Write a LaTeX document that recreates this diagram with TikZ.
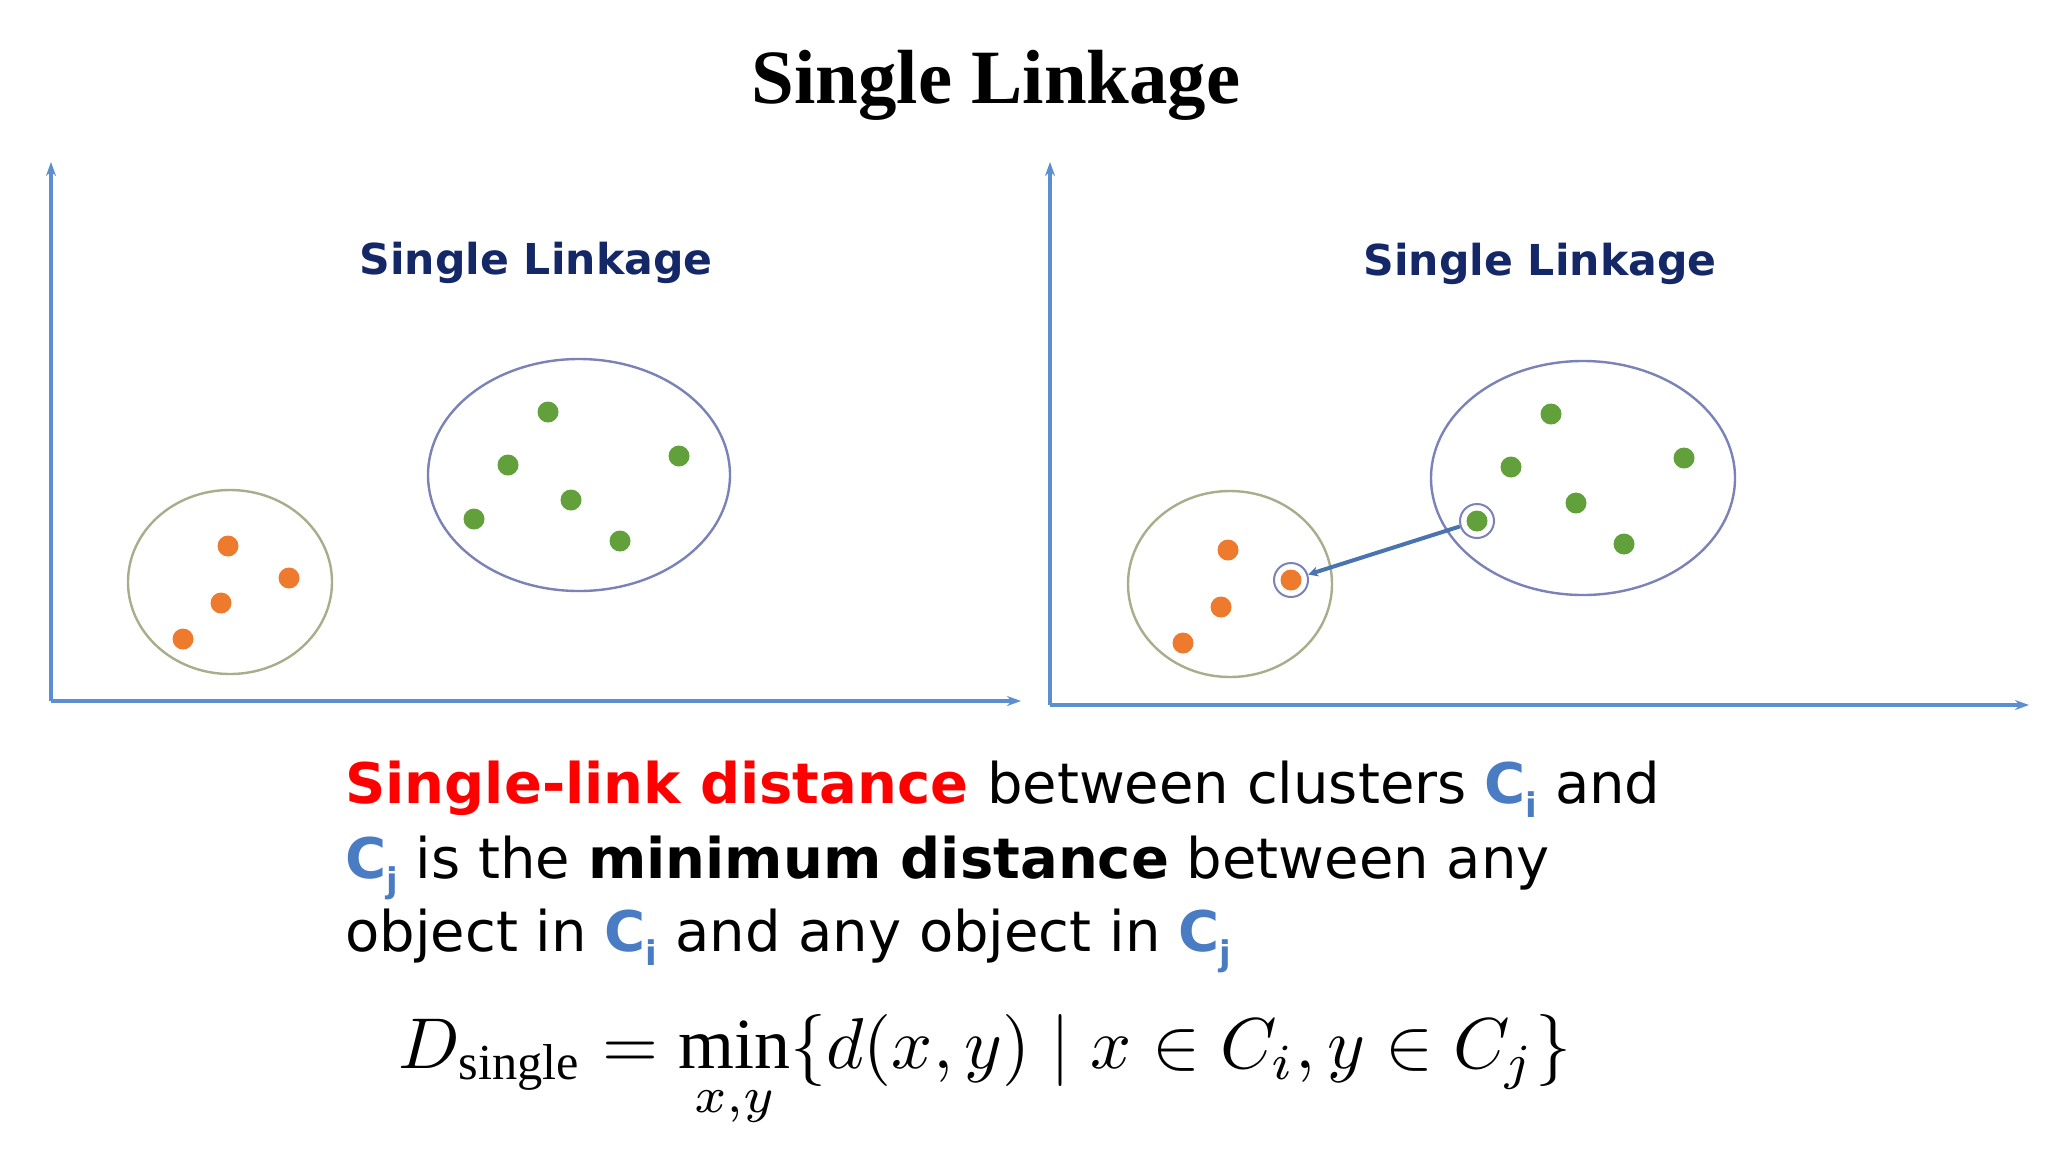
\documentclass[tikz,border=0pt]{standalone}
\usepackage{fontspec}
\usepackage{amsmath}
\setmainfont{Liberation Serif}
\newfontfamily\dv{DejaVu Sans}
\usetikzlibrary{arrows.meta}
\definecolor{axisc}{HTML}{5B8FD0}
\definecolor{navy}{HTML}{142766}
\definecolor{orng}{HTML}{EE7A2E}
\definecolor{grn}{HTML}{62A03C}
\definecolor{cblue}{HTML}{4A7CC4}
\definecolor{ellg}{HTML}{A8AE8C}
\definecolor{ellb}{HTML}{7A82B8}
\definecolor{linkc}{HTML}{4A74B0}
\tikzset{
 axis/.style={draw=axisc,line width=2pt,-{Stealth[length=7pt,width=5pt]}},
 od/.style={circle,fill=orng,minimum size=10.5pt,inner sep=0},
 gd/.style={circle,fill=grn,minimum size=10.5pt,inner sep=0},
 ptitle/.style={font=\dv\bfseries\fontsize{21.3}{25}\selectfont,text=navy},
 hl/.style={circle,draw=ellb,line width=1pt,minimum size=17pt,inner sep=0},
 body/.style={font=\dv\fontsize{28}{37}\selectfont,anchor=base west,inner sep=0}
}
\begin{document}
\begin{tikzpicture}[x=0.5pt,y=-0.5pt]
\useasboundingbox[fill=white] (0,0) rectangle (2048,1152);
\node[font=\bfseries\fontsize{38.4}{42}\selectfont] (t) at (996,85) {Single Linkage};
% left panel
\coordinate (lo) at (51,701); \coordinate (ly) at (51,162); \coordinate (lx) at (1021,701);
\draw[axis] (lo) -- (ly); \draw[axis] (lo) -- (lx);
\node[ptitle] (lt) at (536,263) {Single Linkage};
\draw[ellg,line width=1.2pt] (230,582) ellipse [x radius=102,y radius=92];
\draw[ellb,line width=1.2pt] (579,475) ellipse [x radius=151,y radius=116];
\foreach \p [count=\i] in {(228,546),(289,578),(221,603),(183,639)} \node[od] (lo\i) at \p {};
\foreach \p [count=\i] in {(548,412),(508,465),(679,456),(571,500),(474,519),(620,541)} \node[gd] (lg\i) at \p {};
% right panel
\coordinate (ro) at (1050,705); \coordinate (ry) at (1050,162); \coordinate (rx) at (2029,705);
\draw[axis] (ro) -- (ry); \draw[axis] (ro) -- (rx);
\node[ptitle] (rt) at (1540,264) {Single Linkage};
\draw[ellg,line width=1.2pt] (1230,584) ellipse [x radius=102,y radius=93];
\draw[ellb,line width=1.2pt] (1583,478) ellipse [x radius=152,y radius=117];
\foreach \p [count=\i] in {(1228,550),(1221,607),(1183,643)} \node[od] (ro\i) at \p {};
\node[od] (rA) at (1291,580) {};
\foreach \p [count=\i] in {(1551,414),(1511,467),(1684,458),(1576,503),(1624,544)} \node[gd] (rg\i) at \p {};
\node[gd] (rB) at (1477,521) {};
\node[hl] (hA) at (rA) {}; \node[hl] (hB) at (rB) {};
\draw[linkc,line width=2pt,-{Stealth[length=5pt,width=5pt]}] (hB) -- (hA);
% text
\node[body,text=red,font=\dv\bfseries\fontsize{28}{37}\selectfont] (l1a) at (345,803) {Single-link distance};
\node[body] (l1b) at (l1a.base east) {\ between clusters \textcolor{cblue}{\textbf{C}\raisebox{-0.25em}{\fontsize{17}{17}\selectfont\bfseries i}} and};
\node[body] (l2) at (345,878) {\textcolor{cblue}{\textbf{C}\raisebox{-0.25em}{\fontsize{17}{17}\selectfont\bfseries j}} is the \textbf{minimum distance} between any};
\node[body] (l3) at (345,951) {object in \textcolor{cblue}{\textbf{C}\raisebox{-0.25em}{\fontsize{17}{17}\selectfont\bfseries i}} and any object in \textcolor{cblue}{\textbf{C}\raisebox{-0.25em}{\fontsize{17}{17}\selectfont\bfseries j}}};
\node (f) at (985,1072) {\scalebox{3.6}{$D_{\text{single}} = \displaystyle\min_{x,y}\{d(x,y)\mid x\in C_i, y\in C_j\}$}};
\end{tikzpicture}
\end{document}
